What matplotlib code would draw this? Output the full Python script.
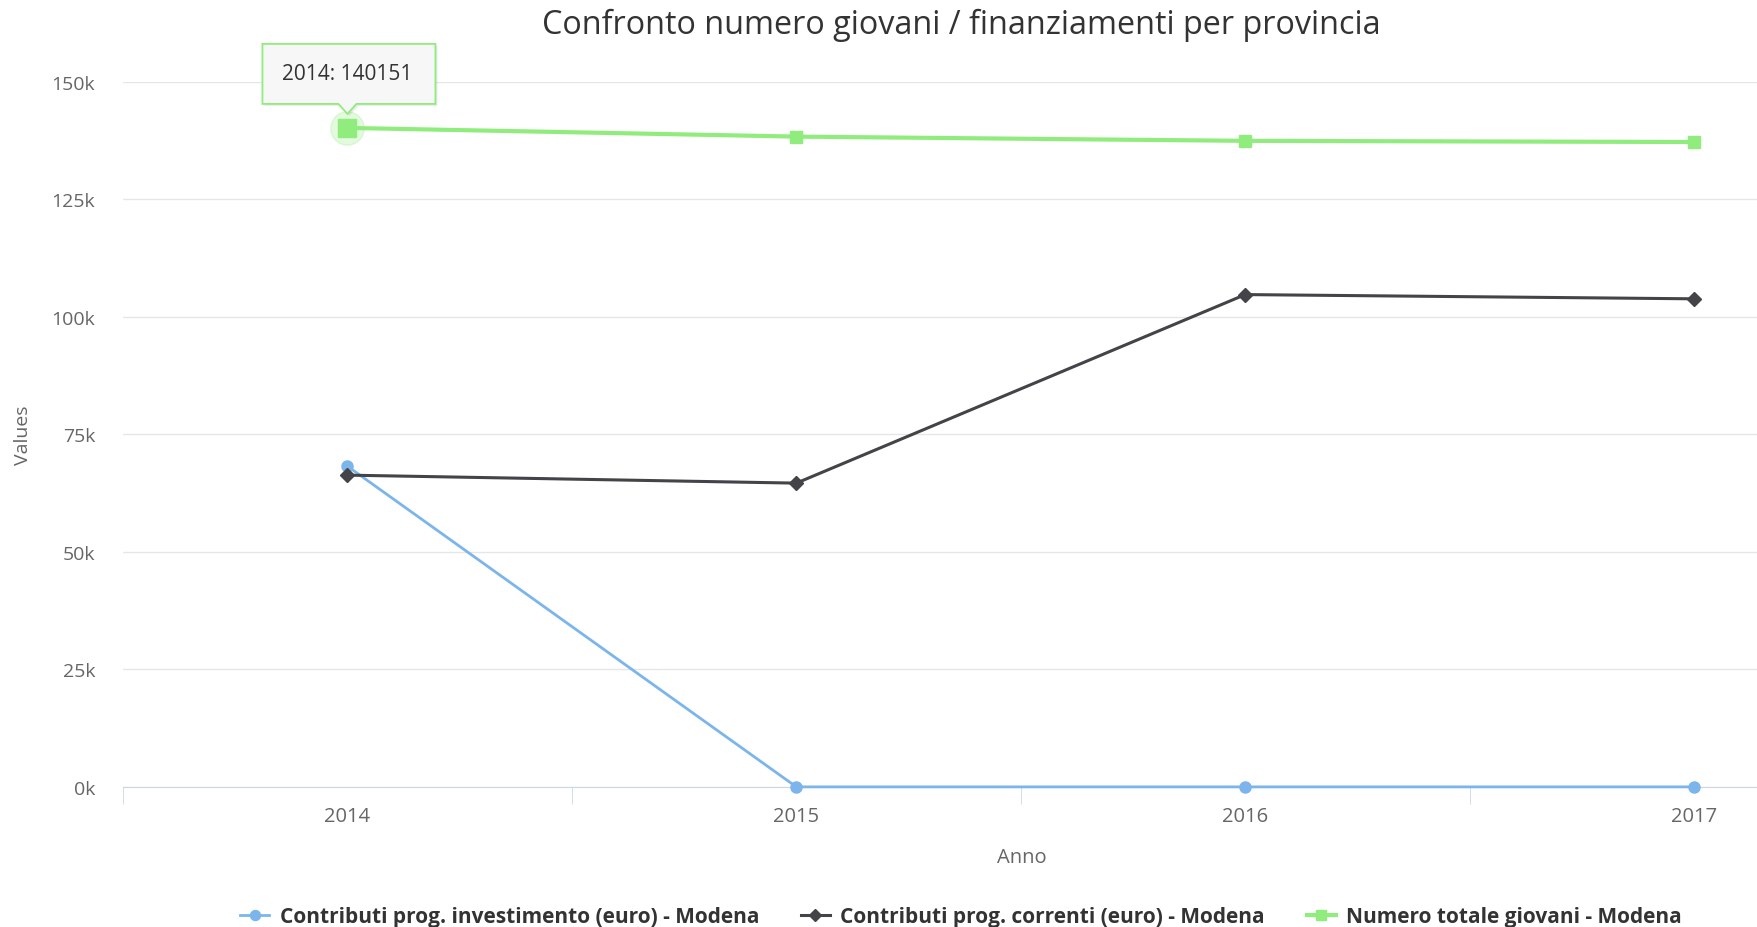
import matplotlib
matplotlib.use("Agg")
import matplotlib.pyplot as plt
from matplotlib.ticker import FuncFormatter, FixedLocator
from matplotlib.patches import Polygon

plt.rcParams["font.family"] = ["Open Sans", "DejaVu Sans"]

anni = ["2014", "2015", "2016", "2017"]
investimento = [68200, 0, 0, 0]
correnti = [66300, 64600, 104700, 103800]
giovani = [140151, 138300, 137400, 137150]

x = list(range(len(anni)))

fig = plt.figure(figsize=(17.57, 9.28), dpi=100)
ax = fig.add_axes([0.070, 0.151, 0.930, 0.760])

ax.plot(x, investimento, color="#7cb5ec", lw=2, marker="o", ms=8, clip_on=False,
        label="Contributi prog. investimento (euro) - Modena", zorder=3)
ax.plot(x, correnti, color="#434348", lw=2.2, marker="D", ms=7, clip_on=False,
        label="Contributi prog. correnti (euro) - Modena", zorder=3)
ax.plot(x, giovani, color="#90ed7d", lw=3, marker="s", ms=8, clip_on=False,
        label="Numero totale giovani - Modena", zorder=4)

ax.set_xlim(-0.5, 3.14)
ax.set_ylim(0, 150000)
ax.set_yticks(range(0, 150001, 25000))
ax.yaxis.set_major_formatter(FuncFormatter(lambda v, p: f"{int(v / 1000)}k"))
ax.set_xticks(x)
ax.set_xticklabels(anni)
ax.xaxis.set_minor_locator(FixedLocator([-0.5, 0.5, 1.5, 2.5]))

# hover halo on the first green point
ax.plot(x[0], giovani[0], "o", ms=24, color="#90ed7d", alpha=0.25, zorder=3)
ax.plot(x[0], giovani[0], "s", ms=13, color="#90ed7d", zorder=5)

# tooltip callout (pixel offsets from the hovered point)
px, py = ax.transData.transform((x[0], giovani[0]))
box = [(px - 85, py + 24), (px - 9, py + 24), (px, py + 14), (px + 9, py + 24),
       (px + 88, py + 24), (px + 88, py + 84), (px - 85, py + 84)]
shadow = [(bx + 2, by - 2) for bx, by in box]
fig.patches.append(Polygon(shadow, closed=True, transform=None, fc="black",
                           alpha=0.08, ec="none", zorder=6))
fig.patches.append(Polygon(box, closed=True, transform=None, fc="#f7f7f7",
                           ec="#90ed7d", lw=1.3, zorder=7))
fig.text(px / fig.bbox.width, (py + 54) / fig.bbox.height,
         f"{anni[0]}: {giovani[0]}", ha="center", va="center",
         fontsize=15, color="#333333", zorder=8)

ax.grid(axis="y", color="#e6e6e6", lw=1)
ax.set_axisbelow(True)
for s in ["top", "right", "left"]:
    ax.spines[s].set_visible(False)
ax.spines["bottom"].set_color("#ccd6eb")
ax.tick_params(axis="y", length=0, pad=20, labelsize=14, labelcolor="#666666")
ax.tick_params(axis="x", which="major", length=0, pad=14, labelsize=14.5, labelcolor="#666666")
ax.tick_params(axis="x", which="minor", length=12, color="#ccd6eb")

ax.set_xlabel("Anno", fontsize=14.5, color="#666666")
ax.xaxis.set_label_coords(0.55, -0.085)
ax.set_ylabel("Values", fontsize=14, color="#666666", labelpad=14)

fig.text(0.547, 0.973, "Confronto numero giovani / finanziamenti per provincia",
         ha="center", va="center", fontsize=23.3, color="#333333")

fig.legend(loc="center", bbox_to_anchor=(0.547, 0.011), ncol=3, frameon=False,
           prop=dict(weight="bold", size=15), labelcolor="#333333",
           handlelength=1.4, columnspacing=2.0, handletextpad=0.5, markerscale=0.9)

fig.savefig("out.png", dpi=100)
